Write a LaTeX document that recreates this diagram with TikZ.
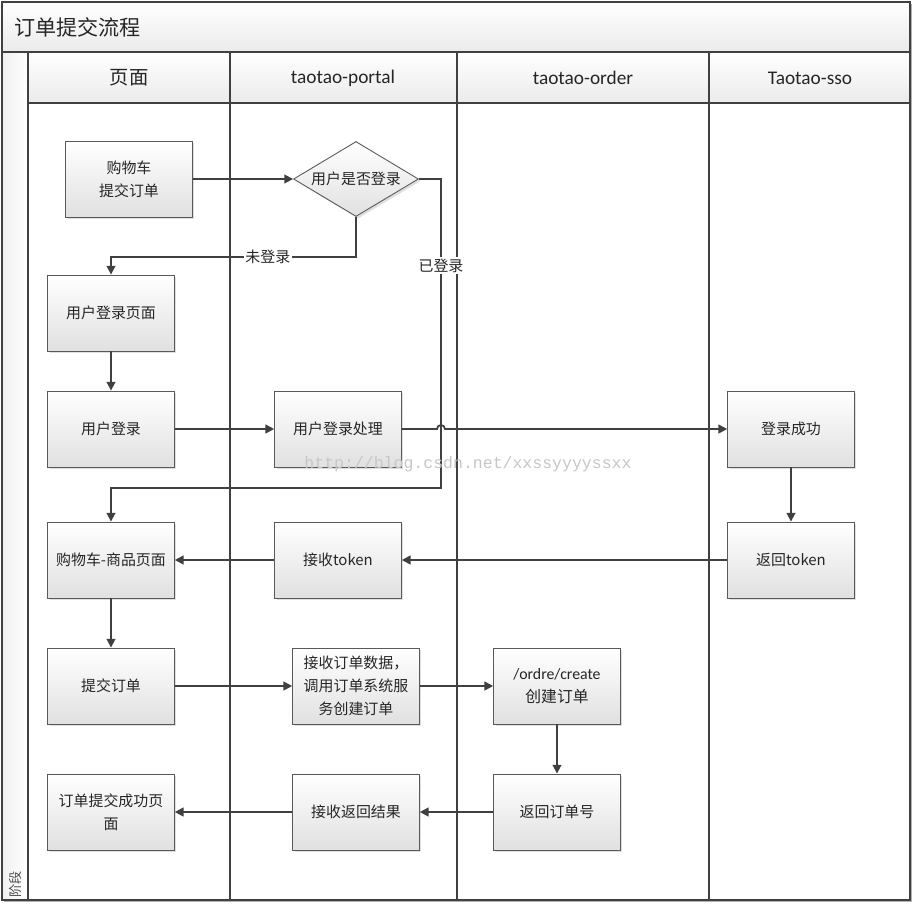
\documentclass[tikz,border=0pt]{standalone}
\usepackage{fontspec}
\setmainfont{Carlito}
\newfontfamily\cjk{Noto Sans CJK SC}
\newfontfamily\wmfont{Liberation Mono}
\usetikzlibrary{arrows.meta,shapes.geometric,shadows}

\begin{document}
\begin{tikzpicture}[
            x = 0.02cm, y = -0.02cm, % one unit = one pixel of the layout
            > = {Triangle[length=5pt,width=5pt]}, % arrow head style
            line join = miter,
            box/.style = {draw=black!65, line width=0.5pt, top color=white, bottom color=black!12,
                          minimum width=2.52cm, minimum height=1.52cm, text width=2.3cm,
                          align=center, font=\cjk\fontsize{8.5}{13}\selectfont, text=black!85,
                          drop shadow={shadow xshift=1.2pt, shadow yshift=-1.2pt, opacity=0.25}},
            decide/.style = {diamond, draw=black!65, line width=0.5pt, top color=white, bottom color=black!12,
                          minimum width=2.5cm, minimum height=1.5cm, inner sep=0pt, aspect=1.67,
                          font=\cjk\fontsize{8.5}{13}\selectfont, text=black!85,
                          drop shadow={shadow xshift=1.2pt, shadow yshift=-1.2pt, opacity=0.25}},
            flow/.style = {->, draw=black!75, line width=1pt},
            lane/.style = {draw=black!75, line width=0.7pt},
            lbl/.style = {fill=white, inner sep=1pt, font=\cjk\fontsize{8.5}{10}\selectfont, text=black!85}
        ]

	\useasboundingbox (0,0) rectangle (916,907);

	% frame, title band and lane headers
	\fill[black!30] (4,4) rectangle (912,902);
	\fill[white] (2,2) rectangle (910,900);
	\shade[top color=white, bottom color=black!8] (2,2) rectangle (910,52);
	\shade[left color=black!6, right color=white] (2,52) rectangle (28,900);
	\shade[top color=white, bottom color=black!8] (28,52) rectangle (910,103);
	\draw[lane] (2,2) rectangle (910,900);
	\draw[lane] (2,52) -- (910,52);
	\draw[lane] (28,103) -- (910,103);
	\foreach \lx in {28,230,457,709} \draw[lane] (\lx,52) -- (\lx,900);

	\node[anchor=west, font=\cjk\fontsize{12}{14}\selectfont, text=black!85] (title) at (8,27) {订单提交流程};
	\node[rotate=90, font=\cjk\fontsize{7.5}{9}\selectfont, text=black!70] (stage) at (15,884) {阶段};
	\node[font=\cjk\fontsize{11}{13}\selectfont, text=black!85] (hpage) at (129,78) {页面};
	\node[font=\fontsize{11}{13}\selectfont, text=black!85] (hportal) at (343,78) {taotao-portal};
	\node[font=\fontsize{11}{13}\selectfont, text=black!85] (horder) at (583,78) {taotao-order};
	\node[font=\fontsize{11}{13}\selectfont, text=black!85] (hsso) at (810,78) {Taotao-sso};

	% steps
	\node[box] (cart) at (129,179) {购物车\\提交订单};
	\node[decide] (check) at (356,179) {用户是否登录};
	\node[box] (loginpage) at (111,313) {用户登录页面};
	\node[box] (login) at (111,429) {用户登录};
	\node[box] (handle) at (338,429) {用户登录处理};
	\node[box] (success) at (791,429) {登录成功};
	\node[box] (cartpage) at (111,560) {购物车-商品页面};
	\node[box] (gettoken) at (338,560) {接收token};
	\node[box] (rettoken) at (791,560) {返回token};
	\node[box] (submit) at (111,686) {提交订单};
	\node[box] (getorder) at (356,686) {接收订单数据，\\调用订单系统服\\务创建订单};
	\node[box, font=\fontsize{9}{13}\selectfont] (create) at (557,686) {/ordre/create\\{\cjk 创建订单}};
	\node[box] (retno) at (557,812) {返回订单号};
	\node[box] (getresult) at (356,812) {接收返回结果};
	\node[box] (done) at (111,812) {订单提交成功页\\面};

	\coordinate (yup) at (441,179);
	\coordinate (ydn) at (441,488);
	\coordinate (jump) at (437,429);

	% connectors
	\draw[flow] (cart) -- (check);
	\draw[flow] (check.south) -- ++(0,40) -| node[lbl, pos=0.18] {未登录} (loginpage.north);
	\draw[flow] (check.east) -- (yup) -- node[lbl, pos=0.28] {已登录} (ydn) -| (cartpage.north);
	\draw[flow] (loginpage) -- (login);
	\draw[flow] (login) -- (handle);
	\draw[flow] (handle.east) -- (jump) arc[start angle=180, end angle=0, radius=0.08cm] -- (success.west);
	\draw[flow] (success) -- (rettoken);
	\draw[flow] (rettoken) -- (gettoken);
	\draw[flow] (gettoken) -- (cartpage);
	\draw[flow] (cartpage) -- (submit);
	\draw[flow] (submit) -- (getorder);
	\draw[flow] (getorder) -- (create);
	\draw[flow] (create) -- (retno);
	\draw[flow] (retno) -- (getresult);
	\draw[flow] (getresult) -- (done);

	% watermark
	\node[font=\wmfont\fontsize{9.4}{10}\selectfont, text=black!22] (mark) at (468,464) {http://blog.csdn.net/xxssyyyyssxx};

\end{tikzpicture}
\end{document}
